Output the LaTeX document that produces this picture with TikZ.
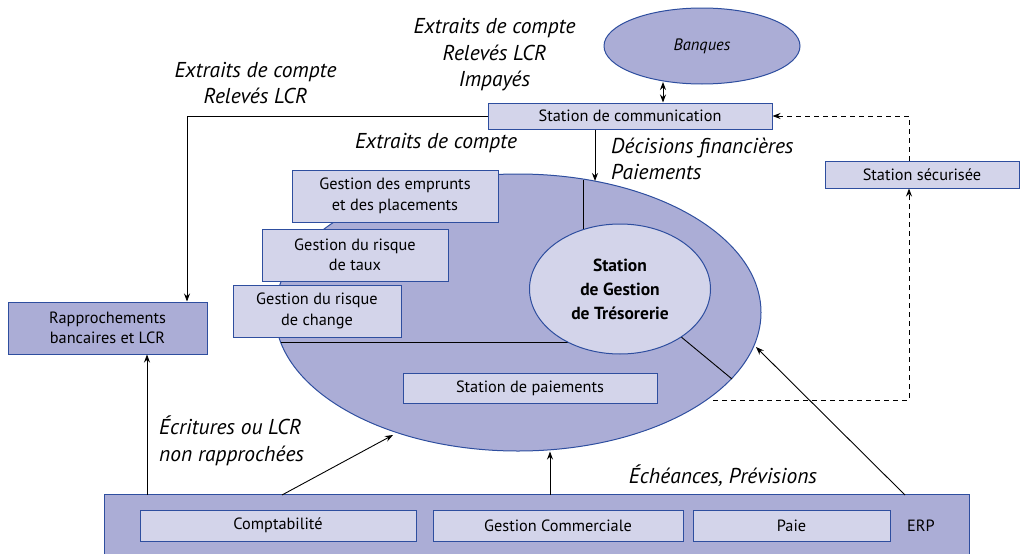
\documentclass[tikz,border=0pt]{standalone}
\usepackage{fontspec}
\setmainfont{PT Sans}
\usetikzlibrary{shapes.geometric,arrows.meta,calc}
\definecolor{darkfill}{HTML}{ABADD6}
\definecolor{lightfill}{HTML}{D3D4EA}
\definecolor{bord}{HTML}{2E4E9F}
\tikzset{
  box/.style={draw=bord, line width=1pt, fill=lightfill, rectangle, inner sep=0pt, align=center, font=\fontsize{16.3}{20.5}\selectfont},
  dbox/.style={box, fill=darkfill},
  ell/.style={draw=bord, line width=1pt, ellipse, inner sep=0pt, align=center},
  lab/.style={font=\fontsize{21.5}{26.5}\selectfont\itshape, align=center, inner sep=0pt},
  arr/.style={line width=0.9pt, -{Stealth[length=8pt,width=6pt]}},
  plain/.style={line width=0.9pt},
  dashline/.style={line width=0.9pt, dash pattern=on 5pt off 4pt}
}
\begin{document}
\begin{tikzpicture}[x=1pt,y=-1pt]
\useasboundingbox (0,0) rectangle (1020,554);
% big ellipse
\node[ell, fill=darkfill, minimum width=486pt, minimum height=277pt] (big) at (518,312.5) {};
\draw[plain] (583,180) -- (583,232);
\draw[plain] (281,342) -- (570,342);
\draw[plain] (680,336) -- (732,379);
\node[ell, fill=lightfill, minimum width=181pt, minimum height=130pt, font=\fontsize{17.5}{24}\selectfont\bfseries] (gt) at (620,289) {Station\\de Gestion\\de Trésorerie};
% boxes on ellipse
\node[box, minimum width=206pt, minimum height=52pt] (emp) at (395,196) {Gestion des emprunts\\et des placements};
\node[box, minimum width=186pt, minimum height=52pt] (taux) at (355,255) {Gestion du risque\\de taux};
\node[box, minimum width=168pt, minimum height=52pt] (chg) at (317,311) {Gestion du risque\\de change};
\node[box, minimum width=254pt, minimum height=30pt] (pai) at (530,388) {Station de paiements};
% top
\node[ell, fill=darkfill, minimum width=196pt, minimum height=76pt, font=\fontsize{16.5}{20}\selectfont\itshape] (banq) at (702,46) {Banques};
\node[box, minimum width=284pt, minimum height=26pt] (comm) at (630,116) {Station de communication};
\node[box, minimum width=194pt, minimum height=27pt] (sec) at (922,174.5) {Station sécurisée};
\node[dbox, minimum width=199pt, minimum height=52pt] (rapp) at (107.5,328) {Rapprochements\\bancaires et LCR};
% ERP
\node[rectangle, fill=darkfill, minimum width=864pt, minimum height=60pt, inner sep=0pt] (erp) at (537,525) {};
\draw[draw=bord, line width=1pt] (erp.south west) -- (erp.north west) -- (erp.north east) -- (erp.south east);
\node[box, minimum width=276pt, minimum height=31pt] (compta) at (278,525.5) {Comptabilité};
\node[box, minimum width=250pt, minimum height=31pt] (gc) at (558,525.5) {Gestion Commerciale};
\node[box, minimum width=197pt, minimum height=31pt] (paie) at (791.5,525.5) {Paie};
\node[font=\fontsize{16.3}{20}\selectfont, inner sep=0pt] (erpl) at (921,526) {ERP};
% helper coordinates
\coordinate (bq) at (663,82);
\coordinate (rx) at (187,0);
\coordinate (cx) at (595,0);
\coordinate (sx) at (909,0);
\coordinate (gx) at (550,0);
\coordinate (px) at (147,0);
% connectors
\draw[line width=1pt, {Stealth[length=8pt,width=6pt]}-{Stealth[length=8pt,width=6pt]}] (comm.north -| bq) -- (bq);
\draw[arr] (comm.west) -| (rapp.north -| rx);
\draw[arr] (comm.south -| cx) -- (595,181);
\draw[dashline, -{Stealth[length=8pt,width=6pt]}] (sec.north -| sx) |- (comm.east);
\draw[dashline, -{Stealth[length=8pt,width=6pt]}] (713,400) -| (sec.south -| sx);
\draw[arr] (erp.north -| px) -- (rapp.south -| px);
\draw[arr] (282,495) -- (393,435);
\draw[arr] (erp.north -| gx) -- (big.south -| gx);
\draw[arr] (905,495) -- (756,347);
% labels
\node[lab] (l1) at (494.5,55) {Extraits de compte\\Relevés LCR\\Impayés};
\node[lab] (l2) at (255.5,83) {Extraits de compte\\Relevés LCR};
\node[lab] (l3) at (436,143) {Extraits de compte};
\node[lab, align=left, anchor=west] (l4) at (611,159) {Décisions financières\\Paiements};
\node[lab, align=left, anchor=west] (l5) at (159,441) {Écritures ou LCR\\non rapprochées};
\node[lab] (l6) at (723,476) {Échéances, Prévisions};
\end{tikzpicture}
\end{document}
